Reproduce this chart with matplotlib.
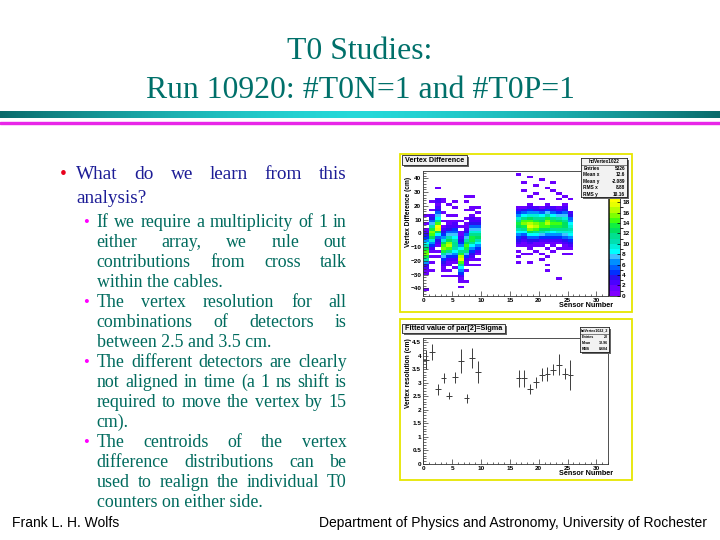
import numpy as np
import matplotlib
matplotlib.use('Agg')
import matplotlib.pyplot as plt
from matplotlib.colors import ListedColormap, BoundaryNorm
from matplotlib.patches import Rectangle
from matplotlib.ticker import MultipleLocator
import matplotlib.cm as cm

# slide text
title_lines = ['T0 Studies:', 'Run 10920: #T0N=1 and #T0P=1']
main_bullet = ['What do we learn from this', 'analysis?']
sub_bullets = [
    ['If we require a multiplicity of 1 in', 'either array, we rule out',
     'contributions from cross talk', 'within the cables.'],
    ['The vertex resolution for all', 'combinations of detectors is',
     'between 2.5 and 3.5 cm.'],
    ['The different detectors are clearly', 'not aligned in time (a 1 ns shift is',
     'required to move the vertex by 15', 'cm).'],
    ['The centroids of the vertex', 'difference distributions can be',
     'used to realign the individual T0', 'counters on either side.'],
]
footer_left = 'Frank L. H. Wolfs'
footer_right = 'Department of Physics and Astronomy, University of Rochester'

# vertex difference vs sensor: counts in 2 cm bins from +46 (top) to -46 (bottom)
# '.' = empty, 1-9, a-j = 10-19
vtx_sensors = [0, 1, 2, 3, 4, 5, 6, 7, 8, 9, 16, 17, 18, 19, 20, 21, 22, 23, 24, 25]
vtx_columns = [
    '.' * 16 + '1..1.123468acefda63211.....1..',
    '.' * 11 + '1..1.2357adfec96421.1.1..1' + '.' * 9,
    '.' * 6 + '1...22123578beihc85321.1.1' + '.' * 14,
    '.' * 10 + '11...1..1.123469cefda743211.1' + '.' * 7,
    '.' * 12 + '1...1.112357acfgeb74211.1.1' + '.' * 7,
    '.' * 11 + '1.1..1.1224578abba86421.1..1' + '.' * 7,
    '.' * 18 + '1.1.1123468bdgheb864211.1' + '.' * 3,
    '.' * 9 + '1.1..1..1.112357acedb74211.1...1' + '.' * 5,
    '.' * 9 + '1...11.1223579bddb864321.1' + '.' * 11,
    '.' * 13 + '1.1.123579bca86421.1.1' + '.' * 11,
    '.1' + '.' * 11 + '12469bdca864321.1.1.1' + '.' * 12,
    '....1..1.....' + '1358befdb853211..1' + '.' * 15,
    '..1......1..' + '12469ceghfc853211.1..1' + '.' * 12,
    '.....1..1....' + '2369bdfgeb85311.1' + '.' * 16,
    '...1......1..' + '1358bceeca74211..1.1' + '.' * 13,
    '......1.....' + '1247adfgec96421.1..1..1.1' + '.' * 9,
    '....1..1.....' + '2358bdedb864211.1' + '.' * 16,
    '........1.1..' + '1247acedb96421.1' + '.' * 10 + '1' + '.' * 6,
    '.........1..' + '123579bccb9753211.1' + '.' * 15,
    '..........1....' + '235689a9864321.1' + '.' * 15,
]
vtx_stats = [('Entries', '5326'), ('Mean x', '12.6'), ('Mean y', '-2.089'),
             ('RMS x', '8.88'), ('RMS y', '10.16')]

# fitted sigma per sensor
sig_sensors = [0, 1, 2, 3, 4, 5, 6, 7, 8, 9, 16, 17, 18, 19, 20, 21, 22, 23, 24, 25]
sig_value = [3.86, 4.13, 2.76, 3.18, 2.52, 3.20, 3.82, 2.42, 3.92, 3.40,
             3.16, 3.16, 2.77, 3.02, 3.30, 3.32, 3.49, 3.67, 3.34, 3.29]
sig_error = [0.35, 0.30, 0.20, 0.20, 0.12, 0.20, 0.45, 0.18, 0.38, 0.40,
             0.30, 0.30, 0.18, 0.20, 0.25, 0.25, 0.20, 0.38, 0.20, 0.55]
sig_stats = [('Entries', '20'), ('Mean', '12.96'), ('RMS', '8.604')]

# ROOT-like palette, one colour per unit of z (0..24)
palette = ['#8000ff', '#6a00ff', '#4a00ff', '#2a10f0', '#0030ff', '#0060ff',
           '#0090ff', '#40c0ff', '#00ffff', '#00f0d8', '#00e0b0', '#00e090',
           '#00e060', '#10f040', '#40ff10', '#80ff00', '#b8ff00', '#e8ff00',
           '#ffff00', '#ffd800', '#ffb000', '#ff8800', '#ff5000', '#ff0000']

TEAL = '#006b5e'
NAVY = '#1c1c96'
SERIF = 'Liberation Serif'
SANS = 'Liberation Sans'

fig = plt.figure(figsize=(7.2, 5.4), dpi=100)
fig.patch.set_facecolor('white')


def fx(px):
    return px / 720


def fy(py):
    return 1 - py / 540


def box(x0, y0, x1, y1):
    return [fx(x0), fy(y1), (x1 - x0) / 720, (y1 - y0) / 540]


# title
fig.text(fx(360), fy(58.5), title_lines[0], ha='center', va='baseline',
         family=SERIF, fontsize=22.9, color='#00706a')
fig.text(fx(360), fy(97.5), title_lines[1], ha='center', va='baseline',
         family=SERIF, fontsize=22.9, color='#00706a')

# header rules
band = fig.add_axes(box(0, 110, 720, 126))
band.axis('off')
grad = np.abs(np.linspace(-1, 1, 400))
dark = np.array([0.04, 0.42, 0.42])
light = np.array([0.15, 0.85, 0.85])
cols = light + (dark - light) * grad[:, None] ** 1.5
band.imshow(cols[None, :, :], extent=(0, 720, 118.5, 112.5), aspect='auto')
band.axhspan(121.5, 124, color='#e826e8')
band.set_xlim(0, 720)
band.set_ylim(126, 110)

# bullet text
renderer = fig.canvas.get_renderer()


def put_line(text, x0, x1, y, justify, **kw):
    if not justify:
        fig.text(fx(x0), fy(y), text, va='baseline', **kw)
        return
    words = text.split()
    objs = [fig.text(0, fy(y), w, va='baseline', **kw) for w in words]
    widths = [o.get_window_extent(renderer).width for o in objs]
    gap = ((x1 - x0) - sum(widths)) / (len(words) - 1)
    x = x0
    for o, w in zip(objs, widths):
        o.set_x(fx(x))
        x += w + gap


right_edge = 346.7
fig.text(fx(63.5), fy(179), '\u2022', ha='center', va='baseline',
         family=SERIF, fontsize=14, color='#e8001c')
for i, line in enumerate(main_bullet):
    put_line(line, 76, right_edge, 179 + 24 * i, i < len(main_bullet) - 1,
             family=SERIF, fontsize=13.9, color=NAVY)

y = 226.7
for para in sub_bullets:
    fig.text(fx(86.5), fy(y), '\u2022', ha='center', va='baseline',
             family=SERIF, fontsize=12, color='#ff00ff')
    for i, line in enumerate(para):
        put_line(line, 96.7, right_edge, y, i < len(para) - 1,
                 family=SERIF, fontsize=12.9, color=TEAL)
        y += 20

# footer
fig.text(fx(12), fy(526.7), footer_left, ha='left', va='baseline',
         family=SANS, fontsize=10, color='black')
fig.text(fx(707), fy(526.7), footer_right, ha='right', va='baseline',
         family=SANS, fontsize=10, color='black')


# ROOT-style helpers
def canvas_frame(x0, y0, x1, y1):
    fig.patches.append(Rectangle((fx(x0), fy(y1)), (x1 - x0) / 720, (y1 - y0) / 540,
                                 transform=fig.transFigure, fill=False,
                                 edgecolor='#e6e600', lw=1.3, zorder=0.5))


def pave_title(x0, y0, x1, y1, text):
    fig.patches.append(Rectangle((fx(x0 + 1.5), fy(y1 + 1.5)), (x1 - x0) / 720,
                                 (y1 - y0) / 540, transform=fig.transFigure,
                                 facecolor='#666666', edgecolor='none', zorder=4.8))
    fig.patches.append(Rectangle((fx(x0), fy(y1)), (x1 - x0) / 720, (y1 - y0) / 540,
                                 transform=fig.transFigure, facecolor='#f2f2f2',
                                 edgecolor='#222222', lw=0.6, zorder=4.9))
    fig.text(fx((x0 + x1) / 2), fy((y0 + y1) / 2), text, ha='center', va='center',
             family=SANS, fontsize=5.2, weight='bold', zorder=5)


def stat_box(x0, y0, x1, y1, title, rows, size):
    fig.patches.append(Rectangle((fx(x0 + 1.5), fy(y1 + 1.5)), (x1 - x0) / 720,
                                 (y1 - y0) / 540, transform=fig.transFigure,
                                 facecolor='#666666', edgecolor='none', zorder=4.8))
    ax = fig.add_axes(box(x0, y0, x1, y1), zorder=5)
    ax.set_xlim(0, 1)
    ax.set_ylim(len(rows) + 1, 0)
    ax.set_xticks([])
    ax.set_yticks([])
    ax.set_facecolor('#f2f2f2')
    for sp in ax.spines.values():
        sp.set_linewidth(0.6)
        sp.set_color('#222222')
    ax.text(0.5, 0.55, title, ha='center', va='center', family=SANS,
            fontsize=size, weight='bold')
    ax.axhline(1.05, color='#222222', lw=0.4)
    for i, (k, v) in enumerate(rows):
        ax.text(0.05, i + 1.6, k, ha='left', va='center', family=SANS,
                fontsize=size, weight='bold')
        ax.text(0.96, i + 1.6, v, ha='right', va='center', family=SANS,
                fontsize=size, weight='bold')


def root_axes(ax):
    ax.set_facecolor('white')
    for sp in ax.spines.values():
        sp.set_linewidth(0.6)
        sp.set_color('#333333')
    ax.tick_params(which='both', direction='in', top=False, right=False,
                   width=0.5, color='#333333', labelsize=4.6, pad=1.5)
    ax.tick_params(which='major', length=3.5)
    ax.tick_params(which='minor', length=1.8)
    for lab in ax.get_xticklabels() + ax.get_yticklabels():
        lab.set_family(SANS)
        lab.set_weight('bold')
    ax.xaxis.set_major_locator(MultipleLocator(5))
    ax.xaxis.set_minor_locator(MultipleLocator(1))


# top canvas: vertex difference (COLZ)
canvas_frame(400, 154, 632, 312)
ax1 = fig.add_axes(box(423.3, 171, 608, 295.7))
y_edges = np.arange(-46, 47, 2)
z = np.zeros((len(y_edges) - 1, 32))
for s, col in zip(vtx_sensors, vtx_columns):
    assert len(col) == 46
    vals = [0 if c == '.' else int(c, 36) for c in col]
    z[:, s] = vals[::-1]
cmap = ListedColormap(palette)
norm = BoundaryNorm(np.arange(0, 25), cmap.N)
ax1.pcolormesh(np.arange(33), y_edges, np.ma.masked_equal(z, 0), cmap=cmap,
               norm=norm, edgecolors='none', antialiased=False)
ax1.set_xlim(0, 32)
ax1.set_ylim(-45.3, 45.3)
ax1.yaxis.set_major_locator(MultipleLocator(10))
ax1.yaxis.set_minor_locator(MultipleLocator(2))
root_axes(ax1)

cax = fig.add_axes(box(609, 171, 620, 295.7))
cb = fig.colorbar(cm.ScalarMappable(norm=norm, cmap=cmap), cax=cax,
                  ticks=np.arange(0, 19, 2))
cb.outline.set_linewidth(0.5)
cax.tick_params(direction='in', length=2.5, width=0.5, labelsize=4.6, pad=1.5)
for lab in cax.get_yticklabels():
    lab.set_family(SANS)
    lab.set_weight('bold')

fig.text(fx(408), fy(176.5), 'Vertex Difference (cm)', rotation=90, ha='center',
         va='top', family=SANS, fontsize=4.8, weight='bold')
fig.text(fx(613), fy(305.7), 'Sensor Number', ha='right', va='center',
         family=SANS, fontsize=5.2, weight='bold')
pave_title(402, 155, 467, 165, 'Vertex Difference')
stat_box(581, 158, 627, 197, 'hdVertex1022', vtx_stats, 3.4)

# bottom canvas: fitted sigma
canvas_frame(400, 319, 632, 480)
ax2 = fig.add_axes(box(423.3, 338, 608, 463.7))
ax2.errorbar(np.array(sig_sensors) + 0.5, sig_value, yerr=sig_error, xerr=0.5,
             fmt='none', ecolor='#3c3c3c', elinewidth=0.7, capsize=0)
ax2.set_xlim(0, 32)
ax2.set_ylim(0, 4.66)
ax2.yaxis.set_major_locator(MultipleLocator(0.5))
ax2.yaxis.set_minor_locator(MultipleLocator(0.1))
ax2.yaxis.set_major_formatter(plt.FuncFormatter(lambda v, p: f'{v:g}'))
root_axes(ax2)

fig.text(fx(408), fy(338), 'Vertex resolution (cm)', rotation=90, ha='center',
         va='top', family=SANS, fontsize=4.8, weight='bold')
fig.text(fx(613), fy(473.7), 'Sensor Number', ha='right', va='center',
         family=SANS, fontsize=5.2, weight='bold')
pave_title(402, 324, 505, 333, 'Fitted value of par[2]=Sigma')
stat_box(580, 327, 609, 352, 'hdVertex1022_2', sig_stats, 2.6)

fig.savefig('out.png', dpi=100, facecolor='white')
